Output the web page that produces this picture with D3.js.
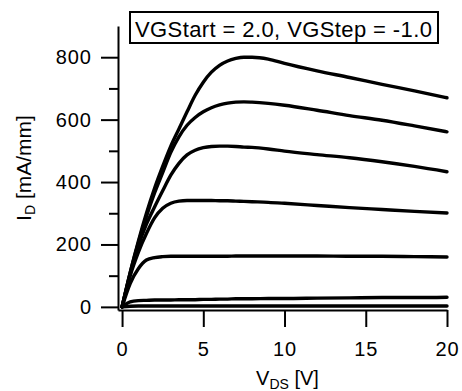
<!DOCTYPE html>
<html>
<head>
<meta charset="utf-8">
<script src="https://cdn.jsdelivr.net/npm/d3@7"></script>
<style>
  html, body { margin: 0; padding: 0; background: #fff; }
  svg { display: block; }
</style>
</head>
<body>
<div id="chart"></div>
<script>
// drain voltage sweep points (V)
const vds = [0, 0.5, 1, 1.5, 2, 2.5, 3, 3.5, 4, 4.5, 5, 5.5, 6, 6.5, 7, 7.5, 8, 9, 10, 12, 14, 16, 18, 20];

// drain current (mA/mm) for each gate voltage, VG = 2 down to -4
const idVg2  = [0, 110, 210, 300, 380, 450, 515, 570, 625, 678, 720, 752, 774, 788, 796, 800, 800, 794, 780, 756, 735, 713, 692, 670];
const idVg1  = [0, 110, 205, 290, 365, 430, 495, 545, 582, 607, 625, 638, 647, 653, 656, 657, 656, 652, 646, 630, 613, 598, 580, 561];
const idVg0  = [0, 105, 195, 265, 320, 372, 422, 460, 487, 502, 510, 514, 515, 515, 514, 512, 511, 506, 499, 488, 478, 465, 450, 433];
const idVgM1 = [0, 100, 175, 235, 285, 316, 332, 339, 341, 341, 341, 341, 340, 340, 339, 338, 337, 335, 332, 325, 318, 312, 306, 301];
const idVgM2 = [0, 75, 122, 150, 158, 161, 162, 162, 162, 162, 162, 162, 162, 162, 163, 163, 163, 163, 163, 163, 162, 162, 161, 160];
const idVgM3 = [0, 16, 20, 21, 22, 22, 22, 23, 23, 23, 24, 24, 25, 25, 26, 26, 26, 27, 27, 28, 29, 30, 30, 31];
const idVgM4 = [0, 2, 3, 3, 3, 3, 3, 3, 3, 3, 3, 3, 3, 3, 3, 3, 3, 3, 3, 3, 3, 3, 3, 3];

const xTicks = [0, 5, 10, 15, 20];
const yTicks = [0, 200, 400, 600, 800];
const yMinorTicks = [100, 300, 500, 700];

const legendText = 'VGStart = 2.0, VGStep = -1.0';

const series = [idVg2, idVg1, idVg0, idVgM1, idVgM2, idVgM3, idVgM4];

const width = 462;
const height = 391;
const font = '"Liberation Sans", Arial, Helvetica, sans-serif';

const svg = d3.select('#chart')
  .append('svg')
  .attr('width', width)
  .attr('height', height)
  .style('background', '#fff');

const x = d3.scaleLinear()
  .domain([-0.25, 20])
  .range([118, 447]);

const y = d3.scaleLinear()
  .domain([-10, 900])
  .range([310, 26]);

// x axis
const xAxis = svg.append('g')
  .attr('transform', 'translate(0,' + y(-10) + ')')
  .call(d3.axisBottom(x).tickValues(xTicks).tickSize(17).tickPadding(15).tickSizeOuter(0));

// y axis, major ticks
const yAxis = svg.append('g')
  .attr('transform', 'translate(' + x(-0.25) + ',0)')
  .call(d3.axisLeft(y).tickValues(yTicks).tickSize(17).tickPadding(9).tickSizeOuter(0));

// y axis, minor ticks
const yMinor = svg.append('g')
  .attr('transform', 'translate(' + x(-0.25) + ',0)')
  .call(d3.axisLeft(y).tickValues(yMinorTicks).tickSize(9).tickFormat('').tickSizeOuter(0));
yMinor.select('.domain').remove();

[xAxis, yAxis, yMinor].forEach(g => {
  g.selectAll('path, line')
    .attr('stroke', '#000')
    .attr('stroke-width', 2);
  g.selectAll('text')
    .attr('fill', '#000')
    .style('font-family', font)
    .style('font-size', '20px')
    .style('letter-spacing', '1px');
});

// curves
const line = d3.line()
  .x((d, i) => x(vds[i]))
  .y(d => y(d))
  .curve(d3.curveMonotoneX);

svg.append('g')
  .selectAll('path')
  .data(series)
  .enter().append('path')
  .attr('d', line)
  .attr('fill', 'none')
  .attr('stroke', '#000')
  .attr('stroke-width', 3.4)
  .attr('stroke-linejoin', 'round')
  .attr('stroke-linecap', 'round');

// x title
const xTitle = svg.append('text')
  .attr('x', x(10) + 3)
  .attr('y', 385)
  .attr('text-anchor', 'middle')
  .style('font-family', font)
  .style('font-size', '20px');
xTitle.append('tspan').text('V');
xTitle.append('tspan').attr('dy', 4).style('font-size', '14px').text('DS');
xTitle.append('tspan').attr('dy', -4).text(' [V]');

// y title
const yTitle = svg.append('text')
  .attr('transform', 'translate(31,168) rotate(-90)')
  .attr('text-anchor', 'middle')
  .style('font-family', font)
  .style('font-size', '21px');
yTitle.append('tspan').text('I');
yTitle.append('tspan').attr('dy', 4).style('font-size', '14px').text('D');
yTitle.append('tspan').attr('dy', -4).text(' [mA/mm]');

// legend box
svg.append('rect')
  .attr('x', 130)
  .attr('y', 12)
  .attr('width', 308)
  .attr('height', 31)
  .attr('fill', '#fff')
  .attr('stroke', '#000')
  .attr('stroke-width', 2);

svg.append('text')
  .attr('x', 135)
  .attr('y', 37)
  .style('font-family', font)
  .style('font-size', '22px')
  .style('letter-spacing', '0.4px')
  .text(legendText);
</script>
</body>
</html>
